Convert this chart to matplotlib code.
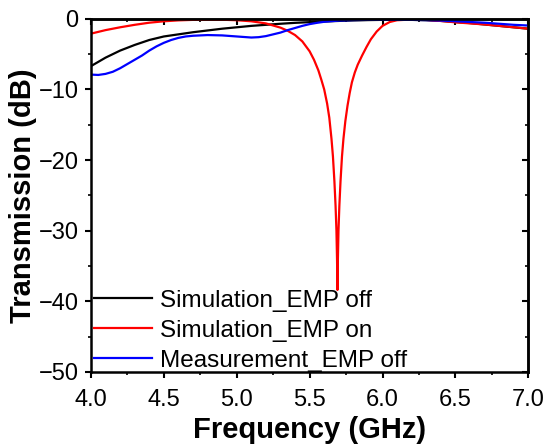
import matplotlib
matplotlib.use('Agg')
import matplotlib.pyplot as plt
from matplotlib.ticker import MultipleLocator

plt.rcParams['font.family'] = ['Liberation Sans', 'DejaVu Sans']

# simulation, EMP off
f_sim_off = [4.0, 4.05, 4.1, 4.15, 4.2, 4.3, 4.4, 4.5, 4.6, 4.7, 4.8, 4.9, 5.0, 5.1, 5.2, 5.3,
             5.4, 5.5, 5.6, 5.7, 5.8, 5.9, 6.0, 6.1, 6.2, 6.3, 6.4, 6.5, 6.6, 6.7, 6.8, 6.9, 7.0]
t_sim_off = [-6.7, -6.1, -5.5, -5.0, -4.5, -3.7, -3.0, -2.5, -2.2, -1.9, -1.65, -1.4, -1.2,
             -1.0, -0.85, -0.7, -0.57, -0.47, -0.38, -0.3, -0.23, -0.18, -0.15, -0.13, -0.15,
             -0.2, -0.3, -0.45, -0.6, -0.8, -1.0, -1.2, -1.4]

# simulation, EMP on
f_sim_on = [4.0, 4.1, 4.2, 4.3, 4.4, 4.5, 4.6, 4.7, 4.8, 4.9, 5.0, 5.1, 5.2, 5.3, 5.35, 5.4,
            5.45, 5.5, 5.53, 5.56, 5.58, 5.6, 5.62, 5.635, 5.65, 5.66, 5.67, 5.678, 5.684,
            5.688, 5.691, 5.694, 5.698, 5.704, 5.712, 5.722, 5.732, 5.745, 5.76, 5.775, 5.79,
            5.81, 5.83, 5.86, 5.89, 5.92, 5.96, 6.0, 6.05, 6.1, 6.2, 6.3, 6.4, 6.5, 6.6, 6.7,
            6.8, 6.9, 7.0]
t_sim_on = [-2.1, -1.6, -1.2, -0.85, -0.55, -0.35, -0.22, -0.15, -0.12, -0.13, -0.2, -0.35,
            -0.65, -1.25, -1.7, -2.3, -3.2, -4.6, -5.8, -7.3, -8.6, -10.0, -12.0, -14.0,
            -17.0, -19.5, -23.0, -26.5, -30.0, -34.0, -38.4, -34.0, -30.0, -26.5, -23.0,
            -19.5, -17.0, -14.5, -12.3, -10.5, -9.0, -7.6, -6.5, -5.2, -4.0, -2.9, -1.8,
            -1.0, -0.45, -0.2, -0.1, -0.15, -0.3, -0.5, -0.65, -0.8, -1.0, -1.2, -1.4]

# measurement, EMP off
f_meas_off = [4.0, 4.05, 4.1, 4.15, 4.2, 4.25, 4.3, 4.35, 4.4, 4.45, 4.5, 4.55, 4.6, 4.65,
              4.7, 4.8, 4.9, 5.0, 5.1, 5.15, 5.2, 5.25, 5.3, 5.35, 5.4, 5.45, 5.5, 5.55, 5.6,
              5.7, 5.8, 5.9, 6.0, 6.1, 6.2, 6.3, 6.4, 6.5, 6.6, 6.7, 6.8, 6.9, 7.0]
t_meas_off = [-7.9, -7.95, -7.8, -7.5, -7.0, -6.4, -5.8, -5.2, -4.5, -3.9, -3.4, -3.0,
              -2.7, -2.5, -2.4, -2.3, -2.35, -2.5, -2.65, -2.6, -2.45, -2.2, -1.95, -1.6,
              -1.3, -1.0, -0.75, -0.57, -0.42, -0.25, -0.18, -0.15, -0.15, -0.15, -0.15,
              -0.18, -0.25, -0.35, -0.45, -0.55, -0.7, -0.85, -0.95]

fig = plt.figure(figsize=(5.48, 4.48), dpi=100)
ax = fig.add_axes([0.166, 0.170, 0.798, 0.788])

ax.plot(f_sim_off, t_sim_off, color='black', lw=1.6, label='Simulation_EMP off')
ax.plot(f_sim_on, t_sim_on, color='#ff0000', lw=1.6, label='Simulation_EMP on')
ax.plot(f_meas_off, t_meas_off, color='#0000ff', lw=1.6, label='Measurement_EMP off')

ax.set_xlim(4.0, 7.0)
ax.set_ylim(-50, 0)
ax.xaxis.set_minor_locator(MultipleLocator(0.25))
ax.yaxis.set_major_locator(MultipleLocator(10))
ax.yaxis.set_minor_locator(MultipleLocator(5))
ax.set_xticks([4.0, 4.5, 5.0, 5.5, 6.0, 6.5, 7.0])
ax.set_xticklabels(['4.0', '4.5', '5.0', '5.5', '6.0', '6.5', '7.0'])

for s in ax.spines.values():
    s.set_linewidth(1.8)
ax.tick_params(which='major', direction='out', length=4, width=1.5, labelsize=17)
ax.tick_params(axis='x', which='major', pad=8)
ax.tick_params(axis='y', which='major', pad=5)
ax.tick_params(which='minor', direction='out', length=2.5, width=1.2)

# mirrored inward ticks on top and right
top = ax.secondary_xaxis('top')
top.xaxis.set_major_locator(MultipleLocator(0.5))
top.xaxis.set_minor_locator(MultipleLocator(0.25))
top.tick_params(which='major', direction='in', length=4, width=1.5, labeltop=False)
top.tick_params(which='minor', direction='in', length=2.5, width=1.2)
right = ax.secondary_yaxis('right')
right.yaxis.set_major_locator(MultipleLocator(10))
right.yaxis.set_minor_locator(MultipleLocator(5))
right.tick_params(which='major', direction='in', length=4, width=1.5, labelright=False)
right.tick_params(which='minor', direction='in', length=2.5, width=1.2)
for sec in (top, right):
    for s in sec.spines.values():
        s.set_linewidth(1.8)

ax.set_xlabel('Frequency (GHz)', fontsize=21, fontweight='bold', labelpad=4)
ax.set_ylabel('Transmission (dB)', fontsize=21, fontweight='bold', labelpad=1)

ax.legend(loc='lower left', frameon=False, fontsize=17.5, handlelength=2.4,
          handletextpad=0.3, labelspacing=0.33, borderpad=0.0, borderaxespad=0.0,
          bbox_to_anchor=(0.007, 0.0))

fig.savefig('out.png', dpi=100)
